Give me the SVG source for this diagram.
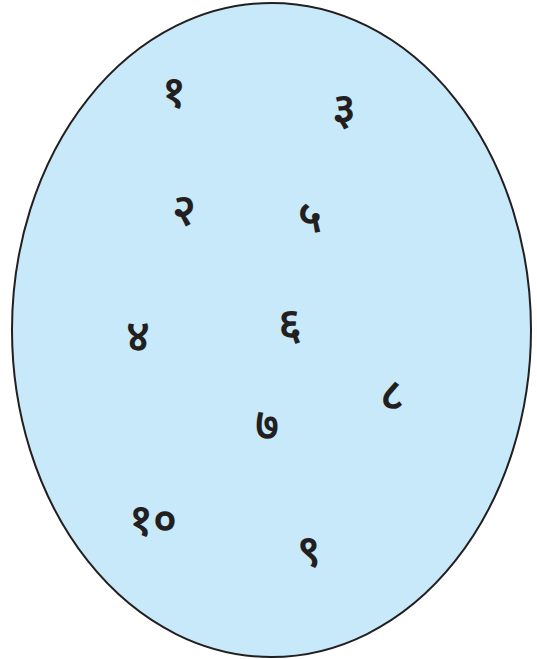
<svg xmlns="http://www.w3.org/2000/svg" width="537" height="659" viewBox="0 0 537 659">
<style>
.n{font-family:"Noto Sans Devanagari","Noto Sans","DejaVu Sans",sans-serif;font-size:44px;font-weight:600;fill:#231f20;text-anchor:middle}
</style>
<rect width="537" height="659" fill="#ffffff"/>
<g id="set">
<ellipse cx="271.5" cy="330" rx="259.5" ry="327" fill="#c7e9f9" stroke="#231f20" stroke-width="2"/>
</g>
<g id="labels">
<g id="n1"><text class="n" x="174" y="107">१</text></g>
<g id="n3"><text class="n" x="344" y="124">३</text></g>
<g id="n2"><text class="n" x="184" y="225">२</text></g>
<g id="n5"><text class="n" x="310" y="232">५</text></g>
<g id="n4"><text class="n" x="138" y="351">४</text></g>
<g id="n6"><text class="n" x="290" y="339">६</text></g>
<g id="n8"><text class="n" x="392" y="410">८</text></g>
<g id="n7"><text class="n" x="267" y="440">७</text></g>
<g id="n10"><text class="n" x="153" y="535">१०</text></g>
<g id="n9"><text class="n" x="309" y="566">९</text></g>
</g>
</svg>
